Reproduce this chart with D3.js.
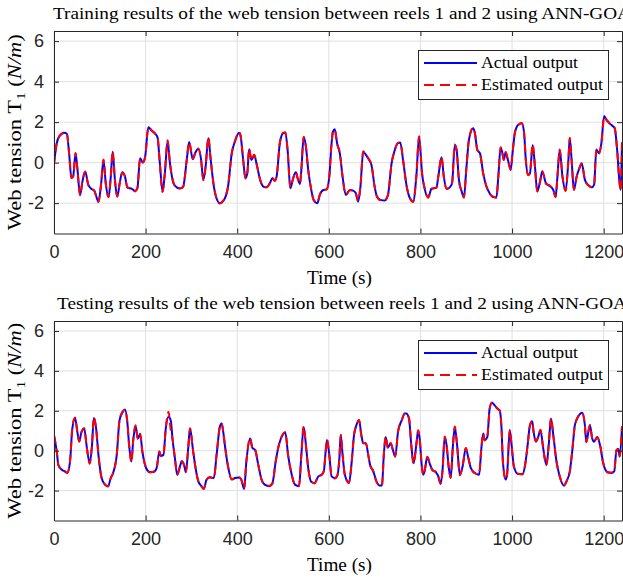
<!DOCTYPE html>
<html>
  <head>
    <title>webTension</title>
    <script src="https://cdn.jsdelivr.net/npm/d3@7/dist/d3.min.js"></script>
    <style>
      body { margin: 0; background: #fff; }
    </style>
  </head>
  <body>
    <svg width="623" height="578" id="mainsvg"></svg>
    <script>
      // data
      const xTicks = [0, 200, 400, 600, 800, 1000, 1200];
      const yTicks = [-2, 0, 2, 4, 6];

      const trainTime = [
        0, 6, 12, 22, 28, 33, 38, 42, 47, 51,
        57, 62, 68, 75, 82, 88, 97, 103, 108, 113,
        119, 124, 128, 133, 138, 144, 149, 155, 160, 170,
        177, 182, 188, 194, 199, 206, 213, 220, 226, 231,
        237, 242, 248, 253, 261, 268, 275, 282, 290, 295,
        303, 308, 315, 321, 326, 331, 337, 342, 348, 354,
        362, 370, 380, 388, 395, 404, 407, 413, 418, 422,
        426, 431, 437, 442, 450, 457, 464, 471, 477, 482,
        486, 493, 500, 505, 510, 516, 522, 528, 532, 537,
        540, 545, 550, 555, 561, 567, 575, 580, 588, 595,
        601, 606, 609, 613, 618, 624, 630, 637, 646, 653,
        659, 664, 669, 675, 681, 688, 693, 700, 705, 713,
        722, 729, 737, 744, 751, 756, 762, 770, 777, 784,
        791, 797, 800, 803, 809, 817, 824, 835, 839, 846,
        851, 857, 864, 869, 875, 879, 884, 890, 895, 900,
        906, 915, 919, 924, 930, 937, 944, 951, 960, 966,
        970, 975, 979, 982, 986, 991, 997, 1001, 1006, 1013,
        1021, 1026, 1030, 1035, 1039, 1045, 1050, 1055, 1061, 1066,
        1074, 1082, 1090, 1095, 1099, 1104, 1110, 1117, 1123, 1126,
        1130, 1135, 1141, 1147, 1152, 1159, 1166, 1174, 1179, 1184,
        1190, 1195, 1201, 1206, 1217, 1224, 1230, 1234, 1237, 1240
      ];
      const trainActual = [
        -0.05, 0.96, 1.32, 1.48, 1.42, 0.46, -0.77, -0.66, 0.46, -0.28,
        -1.6, -0.94, -0.44, -1.1, -1.3, -1.38, -1.93, -1.02, 0.13, -1.02,
        -1.71, -0.69, 0.54, -0.85, -1.68, -0.94, -0.48, -0.69, -1.22, -1.3,
        -1.4, -1.27, 0.22, 0.0, 0.3, 1.75, 1.58, 1.45, 1.25, 0.0,
        -1.43, -0.53, 1.07, 0.0, -1.02, -1.22, -1.28, -1.18, 0.17, 1.02,
        0.17, 0.46, 0.68, 0.17, -0.85, -0.2, 1.2, 0.17, -1.02, -1.71,
        -2.0, -1.88, -1.18, 0.46, 1.04, 1.48, 1.37, 0.13, -0.77, -0.53,
        0.66, 0.13, 0.38, -0.03, -0.85, -1.18, -1.22, -1.02, -0.77, -0.89,
        -0.69, 0.96, 1.45, 1.48, 0.63, -1.27, -0.77, -0.48, -0.77, -1.05,
        -0.36, 1.25, 0.79, -0.36, -1.27, -1.84, -2.0, -1.6, -1.35, -1.32,
        -0.69, 0.96, 1.53, 1.65, 0.96, 0.46, -0.69, -1.6, -1.35, -1.38,
        -1.51, -1.93, -1.18, 0.54, 0.38, 0.13, -0.12, -1.18, -1.68, -1.84,
        -1.87, -1.6, -0.03, 0.63, 0.96, 0.99, 0.13, -1.18, -1.76, -1.93,
        -0.69, 1.28, 0.6, -0.4, -1.27, -1.71, -1.3, -1.22, -0.69, 0.27,
        -0.69, -1.3, -1.22, -1.02, 0.87, 0.63, -0.85, -1.43, -1.71, -0.36,
        1.15, 1.7, 1.45, 0.63, 0.46, -0.53, -1.18, -1.51, -1.71, -1.71,
        -0.69, 0.74, 0.46, 0.13, 0.51, 0.13, -0.36, 0.46, 1.45, 1.86,
        1.94, 1.53, 0.13, -0.6, -0.53, 0.87, -0.2, -1.43, -0.94, -0.44,
        -1.02, -1.15, -1.35, -1.71, -0.69, 0.63, -0.69, -1.38, 0.13, 1.2,
        0.13, -1.35, -0.69, -0.28, -0.03, -0.85, -1.1, -1.22, -1.1, 0.63,
        0.46, 0.96, 2.3, 2.11, 1.86, 1.7, 0.46, -0.85, -1.35, 1.0
      ];
      const trainEstimated = [
        -0.08, 0.98, 1.3, 1.47, 1.44, 0.44, -0.75, -0.68, 0.48, -0.3,
        -1.62, -0.92, -0.45, -1.12, -1.28, -1.4, -1.95, -1.0, 0.15, -1.04,
        -1.7, -0.67, 0.56, -0.87, -1.66, -0.95, -0.5, -0.7, -1.2, -1.31,
        -1.42, -1.25, 0.2, 0.02, 0.28, 1.74, 1.6, 1.44, 1.27, -0.02,
        -1.45, -0.5, 1.1, -0.02, -1.0, -1.24, -1.27, -1.2, 0.19, 1.0,
        0.19, 0.45, 0.7, 0.15, -0.87, -0.18, 1.25, 0.15, -1.0, -1.7,
        -2.02, -1.86, -1.16, 0.44, 1.06, 1.5, 1.35, 0.15, -0.79, -0.51,
        0.68, 0.11, 0.4, -0.05, -0.83, -1.2, -1.21, -1.04, -0.76, -0.9,
        -0.67, 0.98, 1.47, 1.5, 0.6, -1.25, -0.79, -0.46, -0.79, -1.03,
        -0.34, 1.28, 0.77, -0.38, -1.25, -1.86, -1.98, -1.62, -1.34, -1.33,
        -0.67, 0.98, 1.55, 1.62, 0.94, 0.48, -0.71, -1.58, -1.36, -1.37,
        -1.53, -1.9, -1.16, 0.56, 0.36, 0.15, -0.1, -1.2, -1.66, -1.86,
        -1.85, -1.62, -0.01, 0.61, 0.98, 0.97, 0.15, -1.2, -1.74, -1.95,
        -0.67, 1.3, 0.58, -0.42, -1.25, -1.73, -1.28, -1.24, -0.67, 0.29,
        -0.71, -1.28, -1.24, -1.0, 0.9, 0.6, -0.87, -1.41, -1.73, -0.34,
        1.17, 1.72, 1.43, 0.65, 0.44, -0.55, -1.16, -1.53, -1.69, -1.73,
        -0.67, 0.76, 0.44, 0.15, 0.53, 0.11, -0.34, 0.48, 1.47, 1.84,
        1.96, 1.51, 0.15, -0.62, -0.51, 0.9, -0.22, -1.41, -0.96, -0.42,
        -1.04, -1.13, -1.37, -1.69, -0.71, 0.65, -0.67, -1.4, 0.15, 1.23,
        0.11, -1.33, -0.71, -0.26, -0.05, -0.83, -1.12, -1.2, -1.12, 0.65,
        0.44, 0.98, 2.27, 2.13, 1.84, 1.72, 0.44, -0.83, -1.37, 1.02
      ];

      const testTime = [
        0, 6, 9.5, 17, 24, 29, 35, 40, 46, 51,
        55, 60, 66, 71, 78, 83, 87, 92, 97, 104,
        111, 118, 124, 129, 137, 143, 150, 155, 160, 164,
        169, 173, 178, 183, 188, 193, 201, 209, 217, 224,
        230, 233, 239, 244, 250, 255, 259, 264, 269, 275,
        279, 284, 288, 293, 297, 303, 308, 315, 322, 327,
        333, 340, 349, 355, 362, 366, 370, 373, 380, 388,
        395, 404, 409, 415, 420, 428, 433, 439, 446, 453,
        460, 470, 477, 484, 492, 499, 505, 511, 519, 526,
        535, 540, 545, 550, 555, 562, 569, 577, 584, 589,
        593, 596, 601, 606, 613, 618, 623, 626, 630, 635,
        644, 650, 655, 660, 666, 671, 675, 681, 686, 690,
        697, 704, 710, 716, 720, 724, 729, 735, 740, 745,
        751, 759, 766, 769, 775, 780, 785, 791, 795, 799,
        802, 806, 809, 815, 820, 826, 833, 839, 844, 848,
        853, 857, 862, 866, 871, 875, 880, 886, 892, 899,
        904, 910, 919, 928, 933, 937, 940, 946, 951, 956,
        962, 968, 973, 977, 980, 986, 989, 995, 999, 1004,
        1013, 1023, 1028, 1034, 1039, 1044, 1047, 1052, 1057, 1062,
        1068, 1075, 1080, 1085, 1090, 1097, 1104, 1113, 1119, 1126,
        1132, 1137, 1144, 1153, 1159, 1162, 1170, 1175, 1179, 1186,
        1192, 1199, 1208, 1217, 1223, 1228, 1232, 1235, 1240
      ];
      const testActual = [
        0.78, -0.05, -0.71, -0.96, -1.04, -1.12, -0.54, 1.11, 1.64, 0.94,
        0.45, 0.94, 1.11, 0.28, -0.63, 0.28, 1.64, 1.11, -0.21, -1.37,
        -1.7, -1.78, -1.37, -1.12, -0.21, 1.52, 1.94, 2.07, 1.44, 0.28,
        -0.54, 0.53, 1.24, 0.61, 0.83, -0.05, -0.87, -1.07, -1.07, -0.87,
        -0.05, -0.26, -0.21, 1.11, 1.7, 1.5, 0.53, -0.38, -1.21, -0.79,
        -0.54, -0.71, -1.09, 0.12, 1.11, 0.12, -0.71, -1.54, -1.78, -1.92,
        -1.45, -1.34, -1.37, -0.21, 1.19, 1.36, 0.86, 0.28, -0.79, -1.45,
        -1.37, -1.34, -1.45, -1.92, -0.54, 0.61, 0.15, 0.03, -0.71, -1.45,
        -1.7, -1.78, -1.62, -0.54, 0.37, 0.78, 0.91, -0.21, -1.21, -1.7,
        -1.78, -0.21, 1.19, 0.28, -0.87, -1.57, -1.62, -1.29, -1.21, -1.04,
        -0.05, 0.53, -0.21, -1.29, -1.37, -1.29, -0.38, 0.78, -0.21, -1.21,
        -1.62, -0.54, 0.78, 1.27, 1.52, 0.78, 0.37, 0.37, -0.21, -0.71,
        -1.04, -1.54, -1.74, -1.74, -0.21, 0.69, 0.15, 0.37, 0.03, -0.3,
        0.94, 1.52, 1.86, 1.86, 1.61, 0.28, -0.63, 0.3, 1.0, 0.45,
        -0.54, -1.21, -1.04, -0.3, -0.63, -0.96, -1.07, -1.29, -1.67, -1.04,
        0.69, 0.28, -0.87, -1.37, 0.28, 1.19, 0.28, -1.21, -0.79, 0.12,
        -0.3, -0.87, -1.12, -1.21, 0.12, 0.86, 0.53, 0.69, 2.1, 2.4,
        2.27, 2.1, 2.02, 1.11, -0.54, -1.45, -1.21, 1.03, 0.28, -0.79,
        -1.17, -1.17, -0.79, 0.28, 1.27, 1.47, 0.94, 0.45, 0.69, 1.03,
        0.12, -0.71, 0.28, 1.61, 0.78, -0.54, -1.29, -1.74, -1.54, -1.04,
        0.12, 1.27, 1.69, 1.9, 1.27, 0.45, 1.27, 0.61, 0.45, 0.69,
        0.28, -0.63, -1.07, -1.12, -1.04, 0.03, 0.08, -0.3, 1.2
      ];
      const testEstimated = [
        0.75, -0.03, -0.73, -0.94, -1.06, -1.1, -0.52, 1.13, 1.66, 0.92,
        0.47, 0.92, 1.13, 0.26, -0.65, 0.3, 1.68, 1.09, -0.19, -1.39,
        -1.68, -1.8, -1.35, -1.14, -0.19, 1.5, 1.96, 2.05, 1.46, 0.26,
        -0.56, 0.55, 1.28, 0.59, 0.85, -0.07, -0.85, -1.09, -1.05, -0.89,
        -0.03, -0.28, -0.19, 1.13, 1.95, 1.0, 0.55, -0.4, -1.19, -0.81,
        -0.52, -0.73, -1.07, 0.14, 1.13, 0.1, -0.73, -1.52, -1.8, -1.9,
        -1.47, -1.32, -1.39, -0.19, 1.21, 1.38, 0.84, 0.3, -0.81, -1.43,
        -1.39, -1.32, -1.47, -1.9, -0.52, 0.63, 0.13, 0.05, -0.73, -1.43,
        -1.72, -1.76, -1.64, -0.52, 0.39, 0.8, 0.93, -0.23, -1.19, -1.72,
        -1.76, -0.19, 1.21, 0.26, -0.89, -1.55, -1.64, -1.27, -1.23, -1.02,
        -0.07, 0.55, -0.23, -1.27, -1.39, -1.27, -0.4, 0.8, -0.19, -1.23,
        -1.6, -0.52, 0.8, 1.25, 1.54, 0.76, 0.39, 0.35, -0.19, -0.73,
        -1.02, -1.56, -1.72, -1.76, -0.19, 0.71, 0.13, 0.39, 0.01, -0.28,
        0.96, 1.5, 1.88, 1.84, 1.63, 0.26, -0.65, 0.32, 1.02, 0.43,
        -0.52, -1.23, -1.02, -0.32, -0.61, -0.98, -1.05, -1.31, -1.65, -1.06,
        0.71, 0.26, -0.89, -1.35, 0.3, 1.21, 0.26, -1.23, -0.77, 0.14,
        -0.32, -0.85, -1.14, -1.19, 0.14, 0.88, 0.51, 0.71, 2.08, 2.42,
        2.25, 2.12, 2.0, 1.13, -0.56, -1.43, -1.23, 1.05, 0.26, -0.81,
        -1.15, -1.19, -0.77, 0.3, 1.25, 1.49, 0.92, 0.47, 0.67, 1.05,
        0.1, -0.73, 0.3, 1.63, 0.76, -0.56, -1.27, -1.76, -1.52, -1.06,
        0.14, 1.25, 1.71, 1.88, 1.29, 0.43, 1.29, 0.59, 0.47, 0.67,
        0.3, -0.61, -1.09, -1.1, -1.06, 0.05, 0.06, -0.28, 1.22
      ];

      const svg = d3.select("#mainsvg");
      const serif = "'Liberation Serif', 'Times New Roman', serif";
      const sans = "'Liberation Sans', Arial, Helvetica, sans-serif";
      const axisColor = "#262626";

      const left = 54, right = 622;
      const x = d3.scaleLinear().domain([0, 1240]).range([left, right]);

      function panel(top, bottom, title, titleX, titleLen, time, actual, estimated, id) {
        const y = d3.scaleLinear().domain([-3.5, 6.5]).range([bottom, top]);
        const g = svg.append("g");

        // grid
        g.selectAll(".vgrid").data(xTicks).join("line")
          .attr("x1", d => x(d)).attr("x2", d => x(d))
          .attr("y1", top).attr("y2", bottom)
          .attr("stroke", "#dfdfdf").attr("stroke-width", 1);
        g.selectAll(".hgrid").data(yTicks).join("line")
          .attr("x1", left).attr("x2", right)
          .attr("y1", d => y(d)).attr("y2", d => y(d))
          .attr("stroke", "#dfdfdf").attr("stroke-width", 1);

        // lines
        svg.append("clipPath").attr("id", id)
          .append("rect").attr("x", left).attr("y", top)
          .attr("width", right - left).attr("height", bottom - top);

        const line = d3.line()
          .x(d => x(d[0])).y(d => y(d[1]))
          .curve(d3.curveMonotoneX);

        g.append("path")
          .datum(time.map((t, i) => [t, actual[i]]))
          .attr("d", line).attr("clip-path", `url(#${id})`)
          .attr("fill", "none").attr("stroke", "#0000ff").attr("stroke-width", 2);
        g.append("path")
          .datum(time.map((t, i) => [t, estimated[i]]))
          .attr("d", line).attr("clip-path", `url(#${id})`)
          .attr("fill", "none").attr("stroke", "#ff0000").attr("stroke-width", 2)
          .attr("stroke-dasharray", "8,5");

        // axes (box with inward ticks)
        const xb = d3.axisBottom(x).tickValues(xTicks).tickSizeInner(-5).tickSizeOuter(0)
          .tickPadding(12).tickFormat(d3.format("d"));
        const xt = d3.axisTop(x).tickValues(xTicks).tickSizeInner(-5).tickSizeOuter(0).tickFormat("");
        const yl = d3.axisLeft(y).tickValues(yTicks).tickSizeInner(-5).tickSizeOuter(0)
          .tickPadding(10).tickFormat(d => d < 0 ? "-" + Math.abs(d) : d);
        const yr = d3.axisRight(y).tickValues(yTicks).tickSizeInner(-5).tickSizeOuter(0).tickFormat("");

        const axes = [
          [xb, `translate(0,${bottom})`],
          [xt, `translate(0,${top})`],
          [yl, `translate(${left},0)`],
          [yr, `translate(${right},0)`]
        ];
        axes.forEach(([ax, tr]) => {
          const a = g.append("g").attr("transform", tr).call(ax);
          a.select(".domain").attr("stroke", axisColor);
          a.selectAll(".tick line").attr("stroke", axisColor);
          a.selectAll(".tick text")
            .attr("font-family", sans).attr("font-size", 18).attr("fill", axisColor);
        });

        // title
        g.append("text")
          .attr("x", titleX).attr("y", top - 12)
          .attr("font-family", serif).attr("font-size", 17)
          .attr("textLength", titleLen).attr("lengthAdjust", "spacingAndGlyphs")
          .text(title);

        // x label
        g.append("text")
          .attr("x", 339.5).attr("y", bottom + 50)
          .attr("text-anchor", "middle")
          .attr("font-family", serif).attr("font-size", 18)
          .attr("textLength", 65).attr("lengthAdjust", "spacingAndGlyphs")
          .text("Time (s)");

        // y label
        const yt = g.append("text")
          .attr("transform", `translate(21,${(top + bottom) / 2}) rotate(-90)`)
          .attr("text-anchor", "middle")
          .attr("font-family", serif).attr("font-size", 19)
          .attr("textLength", 196).attr("lengthAdjust", "spacingAndGlyphs");
        yt.append("tspan").text("Web tension T");
        yt.append("tspan").attr("font-size", 13).attr("dy", 4).text("1");
        yt.append("tspan").attr("dy", -4).text(" (");
        yt.append("tspan").attr("font-style", "italic").text("N/m");
        yt.append("tspan").text(")");

        // legend
        const lg = g.append("g");
        lg.append("rect")
          .attr("x", 418.5).attr("y", top + 19.5)
          .attr("width", 190).attr("height", 49)
          .attr("fill", "#fff").attr("stroke", axisColor).attr("stroke-width", 1);
        const items = [
          { name: "Actual output", color: "#0000ff", dash: null, len: 97 },
          { name: "Estimated output", color: "#ff0000", dash: "10,6", len: 122 }
        ];
        items.forEach((it, i) => {
          const ly = top + 32 + i * 22;
          lg.append("line")
            .attr("x1", 424).attr("x2", 477).attr("y1", ly).attr("y2", ly)
            .attr("stroke", it.color).attr("stroke-width", 2)
            .attr("stroke-dasharray", it.dash);
          lg.append("text")
            .attr("x", 481).attr("y", ly + 5)
            .attr("font-family", serif).attr("font-size", 17)
            .attr("textLength", it.len).attr("lengthAdjust", "spacingAndGlyphs")
            .text(it.name);
        });
      }

      panel(31, 233.5, "Training results of the web tension between reels 1 and 2 using ANN-GOA", 53, 578,
        trainTime, trainActual, trainEstimated, "clipTop");
      panel(321, 520.5, "Testing results of the web tension between reels 1 and 2 using ANN-GOA", 57, 570,
        testTime, testActual, testEstimated, "clipBottom");
    </script>
  </body>
</html>
